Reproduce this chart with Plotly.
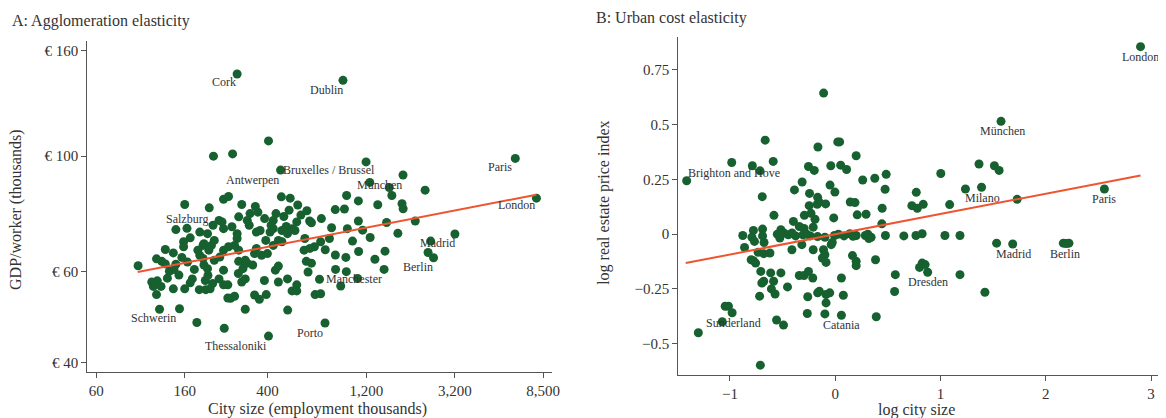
import numpy as np
import plotly.graph_objects as go

# ---------------- Panel A data: city size (employment, thousands) vs GDP/worker (thousands EUR)
a_size = [286, 925, 405, 220, 272, 1195, 6250, 463, 1800, 1245, 1545, 1590, 2300, 7900, 246, 260,
          160, 301, 467, 515, 963, 1097, 1360, 1780, 1802, 210, 509, 849, 940, 145, 164, 189,
          170, 158, 158, 129, 141, 95.4, 117, 124, 129, 145, 142, 111, 113, 118, 123, 117, 141,
          160, 174, 188, 202, 212, 121, 151, 183, 248, 405, 758, 313, 501, 713, 1088, 902, 679,
          722, 852, 960, 955, 1028, 1250, 1318, 1459, 1474, 2445, 2376, 2525, 3200, 2061, 1097,
          971, 815, 728, 639, 652, 796, 722, 606, 674, 641, 601, 616, 652, 628, 554, 526, 554,
          500, 452, 437, 452, 387, 395, 347, 366, 258, 266, 278, 246, 258, 301, 313, 290, 305,
          313, 246, 234, 218, 201, 207, 206, 198, 196, 189, 222, 236, 246, 260, 286, 278, 291,
          291, 313, 320, 340, 347, 354, 375, 400, 393, 427, 452, 412, 427, 470, 493, 526, 554,
          543, 500, 470, 388, 427, 417, 369, 354, 327, 320, 291, 286, 270, 246, 234, 242, 219,
          206, 222, 215, 198, 209, 196, 185, 135, 150, 165, 178, 132, 155, 170, 360, 440, 480,
          580, 620, 560, 350, 330, 1100, 850, 760, 1150, 1700, 1500]
a_gdp = [144, 140, 107, 100, 101, 97.5, 99, 94, 92, 89, 87, 84, 86, 83, 82.6, 83.6,
         80.7, 80.7, 83.5, 83, 84, 82, 80.6, 81, 79.2, 79.5, 78.7, 78.9, 79.1, 72.2, 72.6, 71.4,
         69.6, 68.4, 66.9, 66.1, 65.1, 61.5, 63.4, 62.7, 62.0, 61.9, 60.5, 57.2, 56.1, 57.5, 56.1, 54.1, 55.5,
         55.5, 58.0, 55.3, 55.3, 55.5, 50.7, 50.8, 47.8, 46.6, 45.0, 47.7, 50.7, 50.5, 57.9, 58.1, 56.2, 54.1,
         54.3, 60.5, 59.9, 63.8, 68.6, 69.7, 63.3, 60.5, 65.6, 68.6, 65.2, 63.7, 70.8, 75.0, 75.0,
         72.5, 72.8, 75.8, 75.0, 74.4, 69.4, 68.4, 69.4, 66.9, 66.4, 65.9, 62.7, 62.2, 59.8, 56.5, 55.0, 55.0,
         58.0, 57.2, 60.3, 61.4, 57.6, 54.1, 54.0, 53.0, 53.3, 53.2, 53.7, 56.5, 56.5, 57.2, 58.0, 59.4, 60.7,
         62.2, 60.3, 58.0, 56.8, 57.6, 58.9, 60.7, 61.7, 63.5, 64.4, 63.0, 63.9, 65.9, 66.9, 69.4, 67.3, 65.9,
         62.7, 63.0, 62.2, 61.7, 64.9, 66.4, 64.4, 64.9, 68.8, 67.3, 68.8, 71.4, 72.5, 71.9, 73.2, 72.5, 74.7,
         71.9, 70.9, 68.4, 75.8, 75.2, 73.6, 71.9, 71.4, 73.6, 75.2, 76.4, 70.9, 73.1, 72.5, 75.2, 74.7, 73.6,
         70.9, 68.8, 67.3, 67.8, 65.9, 67.3, 65.9, 60.0, 59.0, 62.5, 60.5, 58.2, 63.8, 57.0, 78.0, 77.5, 76.5,
         77.0, 78.5, 80.5, 80.0, 77.5, 65.5, 64.5, 66.0, 72.0, 71.0, 74.5]
a_fit_size = [95, 7900]
a_fit_gdp = [59.8, 84.3]
a_labels = ["Cork", "Dublin", "Antwerpen", "Bruxelles / Brussel", "München", "Paris", "London",
            "Salzburg", "Madrid", "Berlin", "Manchester", "Schwerin", "Porto", "Thessaloniki"]
a_label_size = [246, 767, 340, 792, 1384, 5250, 6355, 164, 2630, 2130, 1041, 113.5, 639, 283]
a_label_gdp = [138.7, 134.3, 90.1, 94.1, 88.1, 95.2, 80.4, 75.8, 68.0, 61.1, 57.9, 48.7, 45.7, 43.1]
a_xticks = [60, 160, 400, 1200, 3200, 8500]
a_xticktext = ["60", "160", "400", "1,200", "3,200", "8,500"]
a_yticks = [40, 60, 100, 160]
a_yticktext = ["€ 40", "€ 60", "€ 100", "€ 160"]

# ---------------- Panel B data: log city size vs log real estate price index
b_size = [2.9, -0.11, 1.575, -0.665, -0.164, 0.024, 0.042, -0.983, -0.787, -0.589, -0.714, -1.411,
          -0.254, -0.199, -0.042, 0.052, 0.108, 0.199, 0.261, 0.376, 0.484, 1.003, 1.366, 1.512, 1.557,
          -0.314, -0.387, -0.049, -0.003, -0.693, -0.244, -0.167, -0.153, -0.247, -0.171, -0.091, 0.143,
          0.188, 0.474, 0.446, 0.770, 0.728, 0.780, 0.836, 1.087, 1.237, 1.390, 1.728, 2.557, 0.209,
          0.293, -0.582, -0.397, -0.293, -0.230, -0.192, -0.296, -0.341, -0.209, -0.014, 0.443,
          -0.878, -0.777, -0.690, -0.791, -0.690, -0.516, -0.488, -0.526, -0.446, -0.376, -0.307,
          -0.237, -0.167, -0.098, -0.007, 0.084, 0.139, 0.199, 0.286, 0.341, 0.477, 0.652, 0.767,
          0.826, 1.042, 1.185, -0.55, -0.41, -0.27, 0.03, 0.17, 0.31, 0.32,
          -0.861, -0.767, -0.676, -0.620, -0.679, -0.732, -0.777, -0.756, -0.798, -0.707, -0.679,
          -0.697, -0.613, -0.516, -0.585, -0.606, -0.571, -0.718, -0.453, -0.411, -0.317, -0.209,
          -0.111, -0.098, -0.122, -0.087, -0.038, -0.028, -0.341, -0.296, -0.254, -0.213, -0.261,
          -0.265, -0.167, -0.150, -0.087, -0.052, 0.077, 0.059, -0.087, -0.098, 0.059, 0.390,
          -0.557, -0.491, -1.073, -1.045, -1.014, -0.979, -1.300, -0.711, 0.164, 0.199, 0.199,
          0.383, 0.571, 0.564, 0.801, 0.826, 0.854, 0.878, 1.185, 1.422, 1.533, 1.686, 2.167,
          2.220, 2.195]
b_price = [0.856, 0.644, 0.515, 0.429, 0.398, 0.421, 0.421, 0.327, 0.312, 0.332, 0.289, 0.244,
           0.309, 0.291, 0.312, 0.315, 0.295, 0.358, 0.247, 0.255, 0.273, 0.277, 0.320, 0.312, 0.291,
           0.238, 0.202, 0.224, 0.192, 0.171, 0.186, 0.168, 0.147, 0.130, 0.136, 0.138, 0.147,
           0.144, 0.205, 0.118, 0.191, 0.130, 0.118, 0.136, 0.135, 0.206, 0.214, 0.159, 0.206, 0.088,
           0.091, 0.086, 0.058, 0.086, 0.095, 0.068, 0.026, 0.035, 0.032, 0.074, 0.047,
           -0.006, 0.017, 0.023, -0.014, -0.008, 0.020, 0.005, -0.018, -0.003, -0.008, -0.003,
           -0.008, -0.011, -0.014, -0.006, -0.008, 0.002, -0.006, -0.006, -0.014, -0.006, -0.008, -0.006,
           0.002, -0.006, -0.006, 0.0, 0.005, 0.0, 0.0, -0.01, 0.0, -0.02,
           -0.061, -0.033, -0.038, -0.086, -0.089, -0.083, -0.121, -0.132, -0.117, -0.170, -0.215,
           -0.223, -0.177, -0.177, -0.215, -0.250, -0.273, -0.283, -0.241, -0.071, -0.048, -0.071,
           -0.071, -0.094, -0.109, -0.129, -0.048, -0.038, -0.189, -0.189, -0.170, -0.200, -0.286,
           -0.362, -0.268, -0.261, -0.276, -0.268, -0.279, -0.200, -0.314, -0.364, -0.370, -0.377,
           -0.392, -0.415, -0.400, -0.329, -0.329, -0.359, -0.450, -0.598, -0.098, -0.124, -0.144,
           -0.117, -0.185, -0.262, -0.152, -0.132, -0.139, -0.174, -0.185, -0.265, -0.041, -0.045, -0.041,
           -0.041, -0.043]
b_fit_size = [-1.42, 2.9]
b_fit_price = [-0.132, 0.268]
b_labels = ["London", "München", "Brighton and Hove", "Milano", "Paris", "Madrid", "Berlin",
            "Dresden", "Sunderland", "Catania", "Görlitz"]
b_label_size = [2.9, 1.585, -0.962, 1.401, 2.551, 1.697, 2.185, 0.878, -0.969, 0.059, -0.697]
b_label_price = [0.808, 0.470, 0.277, 0.164, 0.159, -0.089, -0.089, -0.220, -0.405, -0.417, -0.647]
b_xticks = [-1, 0, 1, 2, 3]
b_xticktext = ["−1", "0", "1", "2", "3"]
b_yticks = [-0.5, -0.25, 0, 0.25, 0.5, 0.75]
b_yticktext = ["−0.5", "−0.25", "0", "0.25", "0.5", "0.75"]

GREEN = "#17602f"
RED = "#ef5430"
AXC = "#555555"
TXT = "#333333"
FONT = "Liberation Serif"

# layout expressed in reference pixels; figure is offset by the page body margin
OFF = 8
W, H = 1166 - OFF, 418 - OFF


def fx(px):
    return (px - OFF) / W


def fy(py):
    return 1 - (py - OFF) / H


fig = go.Figure()
fig.add_trace(go.Scatter(x=a_size, y=a_gdp, mode="markers", xaxis="x", yaxis="y",
                         marker=dict(color=GREEN, size=9), hoverinfo="skip"))
fig.add_trace(go.Scatter(x=a_fit_size, y=a_fit_gdp, mode="lines", xaxis="x", yaxis="y",
                         line=dict(color=RED, width=2)))
fig.add_trace(go.Scatter(x=b_size, y=b_price, mode="markers", xaxis="x2", yaxis="y2",
                         marker=dict(color=GREEN, size=9), hoverinfo="skip"))
fig.add_trace(go.Scatter(x=b_fit_size, y=b_fit_price, mode="lines", xaxis="x2", yaxis="y2",
                         line=dict(color=RED, width=2)))

axis_common = dict(showgrid=False, zeroline=False, showline=True, linecolor=AXC, linewidth=1.3,
                   ticks="outside", ticklen=5, tickcolor=AXC, tickwidth=1.2,
                   tickfont=dict(family=FONT, size=15, color=TXT))

fig.update_layout(
    width=W, height=H, margin=dict(l=0, r=0, t=0, b=0),
    paper_bgcolor="white", plot_bgcolor="white", showlegend=False,
    font=dict(family=FONT, color=TXT),
    xaxis=dict(domain=[fx(88), fx(556)], type="log", range=[1.7356, 3.9737],
               tickvals=a_xticks, ticktext=a_xticktext, anchor="y", **axis_common),
    yaxis=dict(domain=[fy(372), fy(41)], type="log", range=[1.584, 2.222],
               tickvals=a_yticks, ticktext=a_yticktext, anchor="x", **axis_common),
    xaxis2=dict(domain=[fx(683), 1.0], range=[-1.49, 3.066],
                tickvals=b_xticks, ticktext=b_xticktext, anchor="y2", **axis_common),
    yaxis2=dict(domain=[fy(375), fy(37)], range=[-0.643, 0.900],
                tickvals=b_yticks, ticktext=b_yticktext, anchor="x2", **axis_common),
)

ann = []
for t, xv, yv in zip(a_labels, a_label_size, a_label_gdp):
    ann.append(dict(text=t, x=np.log10(xv), y=np.log10(yv), xref="x", yref="y", showarrow=False,
                    font=dict(family=FONT, size=12, color=TXT)))
for t, xv, yv in zip(b_labels, b_label_size, b_label_price):
    ann.append(dict(text=t, x=xv, y=yv, xref="x2", yref="y2", showarrow=False,
                    font=dict(family=FONT, size=12, color=TXT)))

titles = [
    ("A: Agglomeration elasticity", 10, 21, 0, "left", 16),
    ("B: Urban cost elasticity", 598, 18, 0, "left", 16),
    ("City size (employment thousands)", 320, 409, 0, "center", 16),
    ("log city size", 923, 410, 0, "center", 16),
    ("GDP/worker (thousands)", 16, 210, -90, "center", 16),
    ("log real estate price index", 608, 203, -90, "center", 16),
]
for t, px, py, ang, xa, fs in titles:
    ann.append(dict(text=t, x=fx(px), y=fy(py), xref="paper", yref="paper",
                    showarrow=False, textangle=ang, xanchor=xa, yanchor="middle",
                    font=dict(family=FONT, size=fs, color=TXT)))
fig.update_layout(annotations=ann)

fig.write_html("out.html")
